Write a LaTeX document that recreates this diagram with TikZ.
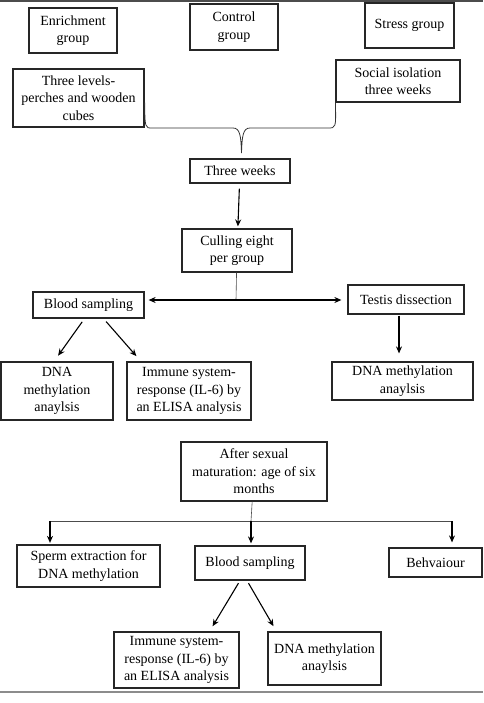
\documentclass[tikz,border=0pt]{standalone}
\usepackage{fontspec}
\setmainfont{Liberation Serif}
\usetikzlibrary{positioning, arrows, arrows.meta}

\begin{document}
\begin{tikzpicture}[x=1pt,y=-1pt,->,>={Stealth[length=7pt,width=6pt]}, line width=1.1pt, box/.style={
						rectangle,
						draw=black!85, line width=1.2pt,
						inner sep=0pt,
						align=center,
						font=\fontsize{14}{17.5}\selectfont,
					},]
					\useasboundingbox (0,0) rectangle (483,703);
					\node[box, minimum width=88pt, minimum height=45pt] (A) at (73,30.5) {Enrichment\\group};
					\node[box, minimum width=88pt, minimum height=46pt] (B) at (234,27) {Control\\group};
					\node[box, minimum width=89pt, minimum height=45pt] (C) at (409.5,25.5) {Stress group};
					\node[box, minimum width=131pt, minimum height=58pt] (D) at (78.5,98) {Three levels-\\perches and wooden\\cubes};
					\node[box, minimum width=124pt, minimum height=42pt] (E) at (398,81) {Social isolation\\three weeks};
					\node[box, minimum width=100pt, minimum height=24pt] (F) at (240,171) {Three weeks};
					\node[box, minimum width=110pt, minimum height=43pt] (G) at (237,250.5) {Culling eight\\per group};
					\node[box, minimum width=111pt, minimum height=26pt] (H) at (88.5,305) {Blood sampling};
					\node[box, minimum width=116pt, minimum height=29pt] (I) at (406,299.5) {Testis dissection};
					\node[box, minimum width=112pt, minimum height=58pt] (J) at (57,391) {DNA\\methylation\\anaylsis};
					\node[box, minimum width=124pt, minimum height=58pt] (K) at (189,391) {Immune system-\\response (IL-6) by\\an ELISA analysis};
					\node[box, minimum width=141pt, minimum height=38pt] (L) at (402.5,381) {DNA methylation\\anaylsis};
					\node[box, minimum width=146pt, minimum height=59pt] (M) at (254,471.5) {After sexual\\maturation: age of six\\months};
					\node[box, minimum width=143pt, minimum height=42pt] (N) at (88.5,566) {Sperm extraction for\\DNA methylation};
					\node[box, minimum width=110pt, minimum height=34pt] (O) at (250,563) {Blood sampling};
					\node[box, minimum width=93pt, minimum height=29pt] (P) at (435.5,562.5) {Behvaiour};
					\node[box, minimum width=125pt, minimum height=56pt] (Q) at (176.5,660) {Immune system-\\response (IL-6) by\\an ELISA analysis};
					\node[box, minimum width=113pt, minimum height=53pt] (R) at (324.5,658.5) {DNA methylation\\anaylsis};
					
					\coordinate (tip) at (241.5,153);
					\coordinate (split) at (236,300);
					\coordinate (fork) at (251,521);
					\coordinate (forkL) at (50,521);
					\coordinate (forkR) at (452,521);
					
					% frame rules
					\draw[-, black!70, line width=1.5pt] (0,1) -- (483,1);
					\draw[-, black!45, line width=2pt] (0,692) -- (483,692);
					
					% brace joining the two treatments
					\draw[-, line width=0.8pt, black!80] (D.east |- E.south) .. controls (145,128) and (145,128) .. (152,128) -- (233,128)
					.. controls (240,128) and (241,136) .. (tip)
					.. controls (242,136) and (243,128) .. (250,128) -- (328,128)
					.. controls (336,128) and (336,128) .. (E.south west);
					
					\draw[shorten <=5pt, shorten >=2pt] (F) -- (G);
					\draw[-, line width=0.6pt, black!70] (G) -- (split);
					\draw[<->, shorten <=4pt, shorten >=6pt] (H.east |- split) -- (I.west |- split);
					\draw[shorten <=1pt, shorten >=8pt] ([xshift=-7pt]I.south) -- ([xshift=-3.5pt]L.north);
					\draw[shorten <=4pt, shorten >=7pt] ([xshift=-4pt]H.south) -- ([xshift=-3pt]J.north);
					\draw[shorten <=4pt, shorten >=7pt] ([xshift=15pt]H.south) -- ([xshift=-48pt]K.north);
					
					\draw[-, line width=0.6pt, black!70] (M) -- (fork);
					\draw[-, line width=0.6pt, black!70] (forkL) -- (forkR);
					\draw[shorten >=1.5pt] (forkL) -- (forkL |- N.north);
					\draw[shorten >=2pt] (fork) -- (fork |- O.north);
					\draw[shorten >=5pt] (forkR) -- (forkR |- P.north);
					\draw[shorten <=3pt, shorten >=6pt] ([xshift=-10pt]O.south) -- ([xshift=33pt]Q.north);
					\draw[shorten <=3pt, shorten >=6pt] ([xshift=-3pt]O.south) -- ([xshift=-48pt]R.north);
					\end{tikzpicture}
\end{document}
